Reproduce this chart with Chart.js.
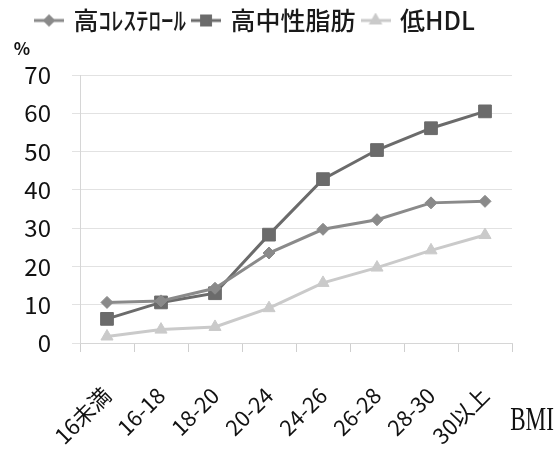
<!DOCTYPE html>
<html>
<head>
<meta charset="utf-8">
<script src="https://cdn.jsdelivr.net/npm/chart.js@4.4.1/dist/chart.umd.min.js"></script>
<style>
  html, body { margin: 0; background: #fff; }
  #wrap { width: 556px; height: 459px; }
</style>
</head>
<body>
<div id="wrap"><canvas id="chart"></canvas></div>
<script>
// ── data ──
const categories = ['16未満', '16-18', '18-20', '20-24', '24-26', '26-28', '28-30', '30以上'];
const seriesNames = ['高ｺﾚｽﾃﾛｰﾙ', '高中性脂肪', '低HDL'];
const cholesterol = [10.6, 11.0, 14.3, 23.5, 29.7, 32.2, 36.6, 37.0];
const triglyceride = [6.3, 10.6, 13.0, 28.3, 42.8, 50.4, 56.1, 60.5];
const lowHdl = [1.7, 3.5, 4.2, 9.1, 15.7, 19.7, 24.2, 28.2];
const yTicks = [0, 10, 20, 30, 40, 50, 60, 70];

const FONT = '"Noto Sans CJK JP", "Noto Sans", sans-serif';
const colors = ['#8a8a8a', '#6b6b6b', '#cacaca'];
const styles = ['rectRot', 'rect', 'triangle'];
const radii = [6, 9, 7];

// legend icon: short line with the marker in the middle
function legendIcon(color, style, radius) {
  const c = document.createElement('canvas');
  c.width = 30; c.height = 16;
  const ctx = c.getContext('2d');
  ctx.strokeStyle = color; ctx.fillStyle = color; ctx.lineWidth = 3;
  ctx.beginPath(); ctx.moveTo(0, 8); ctx.lineTo(30, 8); ctx.stroke();
  Chart.helpers.drawPoint(ctx, { pointStyle: style, radius: radius * 0.7, borderWidth: 1, rotation: 0 }, 15, 8);
  return c;
}
const icons = colors.map((c, i) => legendIcon(c, styles[i], radii[i]));

const seriesData = [cholesterol, triglyceride, lowHdl];
const datasets = seriesData.map((d, i) => ({
  label: seriesNames[i], data: d,
  borderColor: colors[i], backgroundColor: colors[i],
  borderWidth: 3, pointStyle: styles[i], pointRadius: radii[i],
  pointBorderWidth: 1, tension: 0,
}));

// fix legend height so the plot starts where the reference's does
const legendHeight = {
  id: 'legendHeight',
  beforeUpdate(chart) {
    const lg = chart.legend;
    if (!lg || lg._patched) return;
    const fit = lg.fit;
    lg.fit = function () { fit.call(this); this.height = 75; };
    lg._patched = true;
  }
};

// "%" unit and "BMI" axis caption
const captions = {
  id: 'captions',
  afterDraw(chart) {
    const ctx = chart.ctx;
    ctx.save();
    ctx.fillStyle = '#111';
    ctx.textAlign = 'center'; ctx.textBaseline = 'middle';
    ctx.font = 'bold 17px ' + FONT;
    ctx.fillText('%', 22, 49);
    // condensed serif caption
    ctx.translate(532, 421);
    ctx.scale(0.68, 1);
    ctx.font = '34px "Liberation Serif", "DejaVu Serif", serif';
    ctx.fillText('BMI', 0, 0);
    ctx.restore();
  }
};

new Chart(document.getElementById('chart'), {
  type: 'line',
  data: { labels: categories, datasets },
  options: {
    responsive: true, maintainAspectRatio: false, animation: false,
    layout: { padding: { left: 0, right: 44, top: 0, bottom: 0 } },
    plugins: {
      tooltip: { enabled: false },
      legend: {
        position: 'top',
        labels: {
          usePointStyle: true, pointStyleWidth: 24, padding: 8,
          color: '#1a1a1a', font: { size: 25, family: FONT, weight: 500 },
          generateLabels: chart => chart.data.datasets.map((ds, i) => ({
            text: ds.label, pointStyle: icons[i], fillStyle: ds.borderColor,
            strokeStyle: ds.borderColor, lineWidth: 0, hidden: false, datasetIndex: i,
            fontColor: '#1a1a1a',
          })),
        },
      },
    },
    scales: {
      x: {
        offset: true,
        grid: { drawOnChartArea: false, offset: true, tickLength: 9, color: '#cfcfcf' },
        border: { color: '#d6d6d6' },
        ticks: { minRotation: 45, maxRotation: 45, padding: 30, color: '#111', font: { size: 22, family: FONT } },
        afterFit: s => { s.height = 116; },
      },
      y: {
        min: 0, max: 70,
        afterBuildTicks: s => { s.ticks = yTicks.map(v => ({ value: v })); },
        grid: { color: '#e2e2e2', tickLength: 8 },
        border: { color: '#d6d6d6' },
        ticks: { padding: 21, color: '#111', font: { size: 24, family: FONT } },
        afterFit: s => { s.width = 80; },
      },
    },
  },
  plugins: [legendHeight, captions],
});
</script>
</body>
</html>
